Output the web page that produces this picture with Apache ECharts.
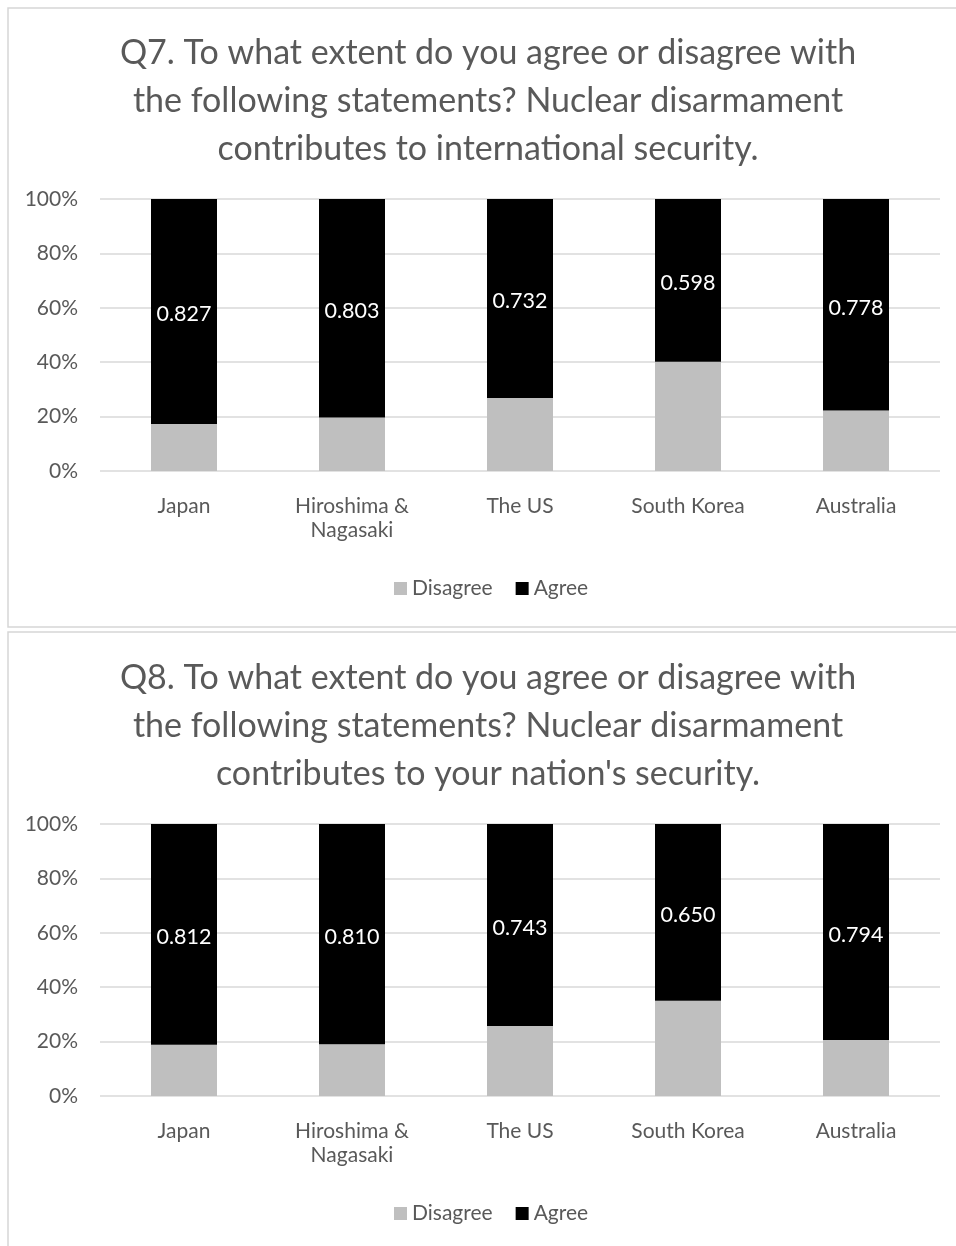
<!DOCTYPE html>
<html>
<head>
<meta charset="utf-8">
<script src="https://cdn.jsdelivr.net/npm/echarts@6/dist/echarts.min.js"></script>
<style>
  html, body { margin: 0; padding: 0; background: #fff; }
  #chart { width: 956px; height: 1246px; }
</style>
</head>
<body>
<div id="chart"></div>
<script>
// Survey regions shown on the x axis
const categories = ['Japan', 'Hiroshima &\nNagasaki', 'The US', 'South Korea', 'Australia'];

// Q7: disarmament contributes to international security
const q7Disagree = [0.173, 0.197, 0.268, 0.402, 0.222];
const q7Agree = [0.827, 0.803, 0.732, 0.598, 0.778];

// Q8: disarmament contributes to your nation's security
const q8Disagree = [0.188, 0.190, 0.257, 0.350, 0.206];
const q8Agree = [0.812, 0.810, 0.743, 0.650, 0.794];

const yTicks = [0, 0.2, 0.4, 0.6, 0.8, 1.0];

const q7Title = 'Q7. To what extent do you agree or disagree with\nthe following statements? Nuclear disarmament\ncontributes to international security.';
const q8Title = 'Q8. To what extent do you agree or disagree with\nthe following statements? Nuclear disarmament\ncontributes to your nation\'s security.';

const FONT = 'Lato';
const TEXT = '#595959';
const GRID = '#d9d9d9';

const chart = echarts.init(document.getElementById('chart'), null, { renderer: 'canvas' });

function titleBlock(text, top) {
  return {
    text: text,
    left: 483,
    top: top,
    textAlign: 'center',
    textStyle: { fontFamily: FONT, fontSize: 34, fontWeight: 'normal', color: TEXT, lineHeight: 48 }
  };
}

function xAxis(gridIndex) {
  return {
    type: 'category',
    gridIndex: gridIndex,
    data: categories,
    axisLine: { show: false },
    axisTick: { show: false },
    axisLabel: { fontFamily: FONT, fontSize: 21, color: TEXT, lineHeight: 24, margin: 23, interval: 0 }
  };
}

function yAxis(gridIndex) {
  return {
    type: 'value',
    gridIndex: gridIndex,
    min: yTicks[0],
    max: yTicks[yTicks.length - 1],
    interval: 0.2,
    axisLine: { show: false },
    axisTick: { show: false },
    splitLine: { lineStyle: { color: GRID, width: 1.5 } },
    axisLabel: {
      fontFamily: FONT, fontSize: 21, color: TEXT, margin: 22,
      formatter: v => Math.round(v * 100) + '%'
    }
  };
}

function seriesPair(idx, disagree, agree) {
  return [
    {
      name: 'Disagree', type: 'bar', stack: 's' + idx,
      xAxisIndex: idx, yAxisIndex: idx,
      barWidth: 66,
      itemStyle: { color: '#bfbfbf' },
      data: disagree
    },
    {
      name: 'Agree', type: 'bar', stack: 's' + idx,
      xAxisIndex: idx, yAxisIndex: idx,
      barWidth: 66,
      itemStyle: { color: '#000000' },
      label: {
        show: true, position: 'inside', color: '#ffffff',
        fontFamily: FONT, fontSize: 21.5, offset: [0, 3],
        formatter: p => p.value.toFixed(3)
      },
      data: agree
    }
  ];
}

function legendBlock(top) {
  return {
    top: top,
    left: 389,
    itemWidth: 13, itemHeight: 13, itemGap: 23,
    icon: 'rect',
    data: ['Disagree', 'Agree'],
    textStyle: { fontFamily: FONT, fontSize: 21, color: TEXT }
  };
}

chart.setOption({
  animation: false,
  backgroundColor: '#ffffff',
  title: [titleBlock(q7Title, 24), titleBlock(q8Title, 649)],
  grid: [
    { left: 100, right: 16, top: 199, height: 272 },
    { left: 100, right: 16, top: 824, height: 272 }
  ],
  xAxis: [xAxis(0), xAxis(1)],
  yAxis: [yAxis(0), yAxis(1)],
  legend: [legendBlock(573), legendBlock(1198)],
  graphic: [
    { type: 'rect', shape: { x: 8, y: 8, width: 960, height: 619 },
      style: { fill: 'none', stroke: '#d6d6d6', lineWidth: 1.5 }, z: -1 },
    { type: 'rect', shape: { x: 8, y: 632, width: 960, height: 640 },
      style: { fill: 'none', stroke: '#d6d6d6', lineWidth: 1.5 }, z: -1 }
  ],
  series: [].concat(seriesPair(0, q7Disagree, q7Agree), seriesPair(1, q8Disagree, q8Agree))
});
</script>
</body>
</html>
